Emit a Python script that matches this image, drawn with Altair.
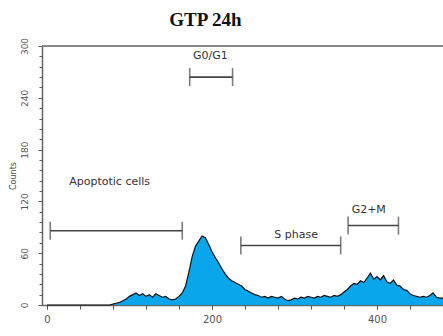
import altair as alt
import pandas as pd

# DNA content histogram (channel vs. counts)
channel = list(range(0, 484, 4))
counts = [
    0, 0, 0, 0, 0, 0, 0, 0, 0, 0,
    0, 0, 0, 0, 0, 0, 0, 0, 0, 0,
    1, 2, 3, 5, 7, 10, 12, 14, 11, 13,
    10, 12, 9, 13, 11, 9, 10, 7, 6, 7,
    10, 14, 22, 38, 56, 68, 74, 80, 78, 70,
    62, 55, 49, 42, 36, 31, 28, 26, 24, 22,
    18, 16, 14, 12, 11, 9, 10, 8, 10, 9,
    8, 10, 7, 5, 6, 8, 7, 9, 8, 10,
    9, 8, 10, 9, 11, 10, 9, 11, 10, 12,
    15, 18, 22, 25, 24, 28, 26, 31, 37, 30,
    33, 29, 34, 27, 25, 29, 23, 22, 18, 17,
    13, 11, 10, 9, 10, 9, 11, 14, 9, 8,
    8,
]

# Cell-cycle gates (marker ranges)
gate_names = ["G0/G1", "Apoptotic cells", "S phase", "G2+M"]
gate_start = [173, 4, 235, 365]
gate_end = [225, 164, 356, 426]
gate_level = [264, 86, 69, 92]
label_x = [198, 76, 302, 390]
label_y = [288, 142, 81, 110]

# Axis ticks
x_major = [0, 200, 400]
x_minor = list(range(0, 481, 40))
y_major = [0, 60, 120, 180, 240, 300]
y_minor = list(range(0, 301, 12))

hist = pd.DataFrame({"channel": channel[: len(counts)], "counts": counts})
gates = pd.DataFrame({
    "name": gate_names, "start": gate_start, "end": gate_end,
    "level": gate_level, "lx": label_x, "ly": label_y,
})

W, H = 401, 259
XMIN, XMAX = -6, 480

x_scale = alt.Scale(domain=[XMIN, XMAX], nice=False, zero=False)
y_scale = alt.Scale(domain=[0, 300], nice=False)

AX = dict(grid=False, tickColor="#555", labelFont="DejaVu Sans", labelColor="#555")

x_axis = alt.Axis(
    values=x_major, orient="bottom", title=None, tickSize=4,
    domainColor="#666", domainWidth=1.5, labelFontSize=10, labelPadding=5,
    labelOverlap=False, labelFlush=False, **AX,
)
x_axis_minor = alt.Axis(
    values=x_minor, orient="bottom", title=None, tickSize=4, labels=False,
    domain=False, **AX,
)
y_axis = alt.Axis(
    values=y_major, orient="left", title="Counts", titleFont="DejaVu Sans",
    titleFontSize=8, titleFontWeight="normal", titleColor="#444",
    titlePadding=3, tickSize=4, domainColor="#666", domainWidth=1.5,
    labelFontSize=9, labelAngle=270, labelPadding=9,
    labelOverlap=False, labelFlush=False, **AX,
)
y_axis_minor = alt.Axis(
    values=y_minor, orient="left", title=None, tickSize=3, labels=False,
    domain=False, **AX,
)

area = alt.Chart(hist).mark_area(
    interpolate="linear", color="#0AA6EC", opacity=1,
    line={"color": "#111", "strokeWidth": 1.2},
).encode(
    x=alt.X("channel:Q", scale=x_scale, axis=x_axis),
    y=alt.Y("counts:Q", scale=y_scale, axis=y_axis),
)

frame_top = alt.Chart(hist).mark_rule(color="#888", strokeWidth=1.5).encode(
    x=alt.value(0), x2=alt.value(W), y=alt.value(0)
)

gate_bar = alt.Chart(gates).mark_rule(color="#444", strokeWidth=1.6).encode(
    x=alt.X("start:Q", scale=x_scale, axis=x_axis_minor), x2="end:Q",
    y=alt.Y("level:Q", scale=y_scale, axis=y_axis_minor),
)
cap_left = alt.Chart(gates).mark_tick(
    color="#444", thickness=1.6, size=18, orient="vertical"
).encode(x=alt.X("start:Q", scale=x_scale, axis=None),
         y=alt.Y("level:Q", scale=y_scale, axis=None))
cap_right = alt.Chart(gates).mark_tick(
    color="#444", thickness=1.6, size=18, orient="vertical"
).encode(x=alt.X("end:Q", scale=x_scale, axis=None),
         y=alt.Y("level:Q", scale=y_scale, axis=None))

gate_text = alt.Chart(gates).mark_text(
    font="DejaVu Sans", fontSize=11, color="#333", baseline="middle"
).encode(
    x=alt.X("lx:Q", scale=x_scale, axis=None),
    y=alt.Y("ly:Q", scale=y_scale, axis=None),
    text="name:N",
)

chart = alt.layer(
    area, frame_top, gate_bar, cap_left, cap_right, gate_text
).resolve_axis(x="independent", y="independent").properties(
    width=W, height=H,
    title=alt.TitleParams(
        "GTP 24h", font="Liberation Serif", fontSize=19, fontWeight="bold",
        color="#111", anchor="middle", dx=-37, offset=7,
    ),
    autosize=alt.AutoSizeParams(type="none"),
    padding={"left": 42, "top": 46, "right": 0, "bottom": 31},
).configure_view(stroke=None)

chart.save("out.html", embed_options={"renderer": "svg", "actions": False})
